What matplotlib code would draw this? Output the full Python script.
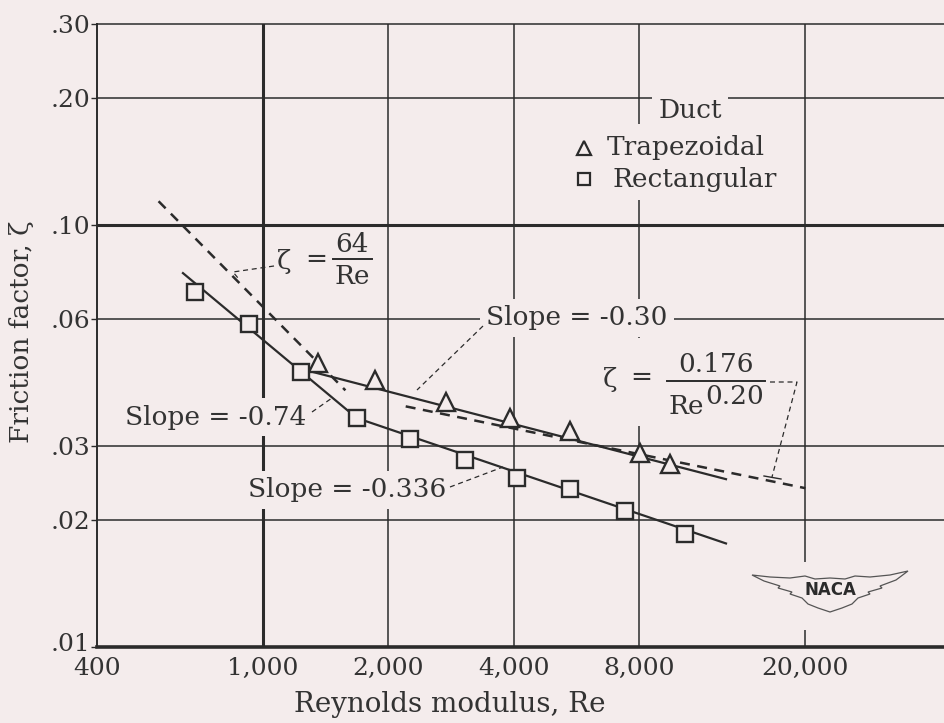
import matplotlib
matplotlib.use("Agg")
import matplotlib.pyplot as plt
from matplotlib.patches import Rectangle, Polygon
from matplotlib.transforms import ScaledTranslation

# ---- values ----
re_ticks = [400, 1000, 2000, 4000, 8000, 20000]
re_ticklabels = ["400", "1,000", "2,000", "4,000", "8,000", "20,000"]
f_ticks = [0.01, 0.02, 0.03, 0.06, 0.10, 0.20, 0.30]
f_ticklabels = [".01", ".02", ".03", ".06", ".10", ".20", ".30"]

trap_re = [1353, 1853, 2749, 3915, 5441, 8025, 9465]
trap_f = [0.0471, 0.0430, 0.0382, 0.0349, 0.0326, 0.0289, 0.0271]
rect_re = [686, 924, 1236, 1679, 2250, 3050, 4072, 5441, 7369, 10300]
rect_f = [0.0696, 0.0584, 0.0449, 0.0349, 0.0311, 0.02775, 0.0252, 0.0237, 0.0210, 0.0185]

# faired curves through the data
trap_fit_re = [1282, 12900]
trap_fit_f = [0.0452, 0.0250]
rect_fit_re = [643, 1679, 12900]
rect_fit_f = [0.077, 0.0349, 0.0176]

# reference lines: zeta = 64/Re and zeta = 0.176/Re^0.20
lam_re = [562, 1577]
lam_f = [0.114, 0.0406]
turb_re = [2200, 20000]
turb_f = [0.0372, 0.0238]

bg = "#f4ecec"
ink = "#2b2b2b"
txt = "#333333"
plt.rcParams["font.family"] = ["DejaVu Serif", "DejaVu Sans"]

fig = plt.figure(figsize=(9.44, 7.23), dpi=100, facecolor=bg)
ax = fig.add_axes([97 / 944, 76 / 723, 847 / 944, 623 / 723], facecolor=bg)
ax.set_xscale("log")
ax.set_yscale("log")
ax.set_xlim(400, 43000)
ax.set_ylim(0.01, 0.30)
ax.minorticks_off()

ax.set_xticks(re_ticks)
ax.set_xticklabels(re_ticklabels, fontsize=18, color=txt)
ax.set_yticks(f_ticks)
ax.set_yticklabels(f_ticklabels, fontsize=18, color=txt)
ax.tick_params(axis="x", length=0, pad=7)
ax.tick_params(axis="y", length=4, width=1.0, color=ink, pad=1)
# lift the ".01" label a little so it clears the "400" below it
lbl = ax.yaxis.get_major_ticks()[0].label1
lbl.set_transform(lbl.get_transform() + ScaledTranslation(0, 5 / 100, fig.dpi_scale_trans))

ax.spines["right"].set_visible(False)
ax.spines["top"].set_linewidth(1.1)
ax.spines["top"].set_color(ink)
ax.spines["left"].set_linewidth(1.4)
ax.spines["left"].set_color(ink)
ax.spines["bottom"].set_linewidth(2.6)
ax.spines["bottom"].set_color(ink)

# grid
for v in re_ticks[1:]:
    ax.axvline(v, color=ink, lw=2.2 if v == 1000 else 1.1, zorder=1)
for h in f_ticks[1:-1]:
    ax.axhline(h, color=ink, lw=2.2 if h == 0.10 else 1.1, zorder=1)


def frac(px, py):
    return (px - 97) / 847, (647 - py) / 623


def label(px, py, s, size=19, box=False, **kw):
    x, y = frac(px, py)
    extra = {}
    if box:
        extra["bbox"] = dict(boxstyle="square,pad=0.25", fc=bg, ec="none")
    ax.text(x, y, s, transform=ax.transAxes, fontsize=size, color=txt,
            ha=kw.pop("ha", "center"), va=kw.pop("va", "center"), zorder=3,
            **extra, **kw)


def seg(pts, dashed=True, lw=0.9):
    xs, ys = zip(*[frac(*p) for p in pts])
    ax.plot(xs, ys, transform=ax.transAxes, color=ink, lw=lw,
            dashes=(4, 3) if dashed else (None, None), zorder=3)


def blank(x0, y0, x1, y1):
    a0, b1 = frac(x0, y0)
    a1, b0 = frac(x1, y1)
    ax.add_patch(Rectangle((a0, b0), a1 - a0, b1 - b0, transform=ax.transAxes,
                           fc=bg, ec="none", zorder=2))


# data lines
ax.plot(lam_re, lam_f, color=ink, lw=1.8, dashes=(4, 3), zorder=4)
ax.plot(turb_re, turb_f, color=ink, lw=1.8, dashes=(4, 3), zorder=4)
ax.plot(trap_fit_re, trap_fit_f, color=ink, lw=1.6, zorder=4)
ax.plot(rect_fit_re, rect_fit_f, color=ink, lw=1.6, zorder=4)
ax.plot(trap_re, trap_f, ls="none", marker="^", ms=13, mfc=bg, mec=ink, mew=1.7, zorder=5)
ax.plot(rect_re, rect_f, ls="none", marker="s", ms=11.5, mfc=bg, mec=ink, mew=1.7, zorder=5)

# legend
blank(572, 124, 790, 200)
label(690, 110, "Duct", box=True)
label(607, 147, "Trapezoidal", ha="left")
label(612, 179, "Rectangular", ha="left")
for py, m, ms in [(148, "^", 10), (179, "s", 9)]:
    x, y = frac(584, py)
    ax.plot([x], [y], transform=ax.transAxes, marker=m, ms=ms, mfc=bg, mec=ink,
            mew=1.6, ls="none", zorder=4)

# zeta = 64/Re
label(284, 262, "ζ")
label(316, 260, "=")
label(352, 245, "64")
seg([(333, 259), (372, 259)], dashed=False, lw=1.4)
label(352, 276, "Re")
seg([(274, 266), (233, 272), (238, 278)])

# slope annotations
label(577, 318, "Slope = -0.30", box=True)
seg([(483, 326), (417, 390)])
label(216, 417, "Slope = -0.74", box=True)
seg([(312, 412), (332, 398)])
label(347, 490, "Slope = -0.336", box=True)
seg([(450, 487), (503, 467)])

# zeta = 0.176/Re^0.20
blank(598, 338, 662, 426)
label(610, 379, "ζ")
label(641, 378, "=")
label(716, 364, "0.176")
seg([(667, 381), (765, 381)], dashed=False, lw=1.4)
label(686, 407, "Re")
label(735, 396, "0.20")
seg([(770, 382), (797, 382), (772, 477)])
seg([(764, 476), (781, 479)], dashed=False, lw=1.0)

# NACA wings
blank(750, 562, 912, 630)
cx, cy = 830, 590
wing = [(-78, -15), (-60, -13), (-40, -12), (-25, -14), (-15, -11), (0, -12),
        (15, -11), (25, -14), (40, -13), (60, -15), (78, -19), (66, -10),
        (50, -4), (52, -2), (38, 2), (40, 4), (28, 8), (22, 14), (12, 18),
        (0, 22), (-12, 18), (-22, 14), (-28, 8), (-40, 4), (-38, 2),
        (-52, -2), (-50, -4), (-66, -9)]
ax.add_patch(Polygon([frac(cx + dx, cy + dy) for dx, dy in wing], closed=True,
                     transform=ax.transAxes, fc="none", ec="#555555", lw=0.9, zorder=3))
x, y = frac(cx, cy)
ax.text(x, y, "NACA", transform=ax.transAxes, fontsize=12, fontweight="bold",
        family="DejaVu Sans", color=ink, ha="center", va="center", zorder=4)

# axis titles
fig.text(22 / 944, 1 - 332 / 723, "Friction factor, ζ", rotation=90,
         ha="center", va="center", fontsize=19, color=txt)
fig.text(450 / 944, 1 - 704 / 723, "Reynolds modulus, Re",
         ha="center", va="center", fontsize=20, color=txt)

fig.savefig("out.png", dpi=100, facecolor=bg)
